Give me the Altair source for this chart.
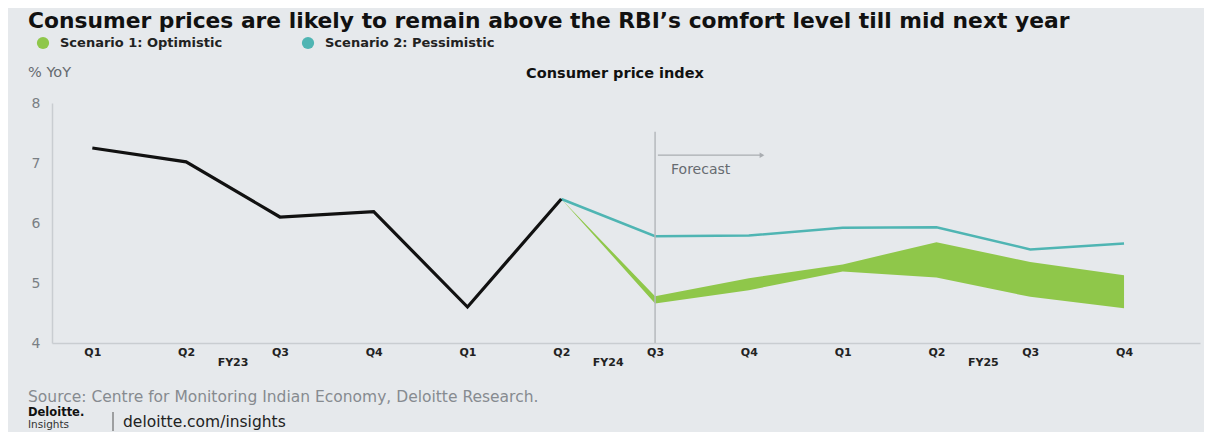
import altair as alt
import pandas as pd

# ---- data ----
quarters = ["Q1", "Q2", "Q3", "Q4", "Q1", "Q2", "Q3", "Q4", "Q1", "Q2", "Q3", "Q4"]
fy_labels = ["FY23", "FY24", "FY25"]
fy_pos = [1.5, 5.5, 9.5]

actual_idx = [0, 1, 2, 3, 4, 5]
actual = [7.25, 7.02, 6.10, 6.19, 4.60, 6.40]

fc_idx = [5, 6, 7, 8, 9, 10, 11]
pessimistic = [6.40, 5.78, 5.79, 5.92, 5.93, 5.56, 5.66]
opt_upper = [6.40, 4.78, 5.08, 5.31, 5.68, 5.35, 5.13]
opt_lower = [6.40, 4.66, 4.88, 5.19, 5.09, 4.77, 4.58]

forecast_start = 6

BG = "#e6e9ec"
GREEN = "#8fc74a"
TEAL = "#4fb5b3"
FONT = "DejaVu Sans"

df_act = pd.DataFrame({"i": actual_idx, "v": actual})
df_fc = pd.DataFrame({"i": fc_idx, "pes": pessimistic, "hi": opt_upper, "lo": opt_lower})
df_fy = pd.DataFrame({"i": fy_pos, "lab": fy_labels})

q_js = "[" + ",".join(f"'{q}'" for q in quarters) + "]"

xs = alt.Scale(domain=[-0.43, 11.81], nice=False, zero=False)
ys = alt.Scale(domain=[4, 8], nice=False, zero=False)

x_axis = alt.Axis(values=list(range(12)), labelExpr=f"{q_js}[datum.value]", title=None,
                  labelFont=FONT, labelFontWeight="bold", labelFontSize=11,
                  labelColor="#222", labelPadding=3, ticks=False, grid=False,
                  domainColor="#c9cdd1", domainWidth=1.5, labelFlush=False)
y_axis = alt.Axis(values=[4, 5, 6, 7, 8], format="d", title=None, labelFont=FONT, labelFontSize=14,
                  labelColor="#7a7f84", labelPadding=12, ticks=False, grid=False,
                  domainColor="#c9cdd1", domainWidth=1.5)

base_fc = alt.Chart(df_fc)

band = base_fc.mark_area(color=GREEN, opacity=1).encode(
    x=alt.X("i:Q", scale=xs, axis=x_axis),
    y=alt.Y("hi:Q", scale=ys, axis=y_axis),
    y2="lo:Q",
)

pes_line = base_fc.mark_line(color=TEAL, strokeWidth=2.5).encode(
    x=alt.X("i:Q", scale=xs), y=alt.Y("pes:Q", scale=ys)
)

act_line = alt.Chart(df_act).mark_line(color="#111", strokeWidth=3.2).encode(
    x=alt.X("i:Q", scale=xs), y=alt.Y("v:Q", scale=ys)
)

df_rule = pd.DataFrame({"i": [forecast_start], "y1": [4.0], "y2": [7.52]})
fc_rule = alt.Chart(df_rule).mark_rule(color="#b5b9bd", strokeWidth=1.5).encode(
    x=alt.X("i:Q", scale=xs), y=alt.Y("y1:Q", scale=ys), y2="y2:Q"
)

df_arrow = pd.DataFrame({"i": [6.03], "i2": [7.12], "y": [7.13]})
arrow_line = alt.Chart(df_arrow).mark_rule(color="#a9adb1", strokeWidth=1.2).encode(
    x=alt.X("i:Q", scale=xs), x2="i2:Q", y=alt.Y("y:Q", scale=ys)
)
df_head = pd.DataFrame({"i": [7.14], "y": [7.13]})
arrow_head = alt.Chart(df_head).mark_point(shape="triangle-right", filled=True, size=30,
                                           color="#a9adb1", opacity=1).encode(
    x=alt.X("i:Q", scale=xs), y=alt.Y("y:Q", scale=ys)
)

df_fl = pd.DataFrame({"i": [6.17], "y": [6.88], "t": ["Forecast"]})
fc_text = alt.Chart(df_fl).mark_text(align="left", baseline="middle", font=FONT,
                                     fontSize=14, color="#666b70").encode(
    x=alt.X("i:Q", scale=xs), y=alt.Y("y:Q", scale=ys), text="t:N"
)

fy_text = alt.Chart(df_fy).mark_text(align="center", baseline="middle", font=FONT,
                                     fontWeight="bold", fontSize=11, color="#222").encode(
    x=alt.X("i:Q", scale=xs), y=alt.value(260), text="lab:N"
)


def label(txt, x, y, size, color, weight="normal", font=FONT, align="left"):
    return alt.Chart(pd.DataFrame({"t": [txt]})).mark_text(
        align=align, baseline="middle", font=font, fontSize=size, fontWeight=weight, color=color
    ).encode(x=alt.value(x), y=alt.value(y), text="t:N")


def dot(x, y, color):
    return alt.Chart(pd.DataFrame({"a": [0]})).mark_point(
        shape="circle", filled=True, size=150, color=color, opacity=1
    ).encode(x=alt.value(x), y=alt.value(y))


title = label("Consumer prices are likely to remain above the RBI\u2019s comfort level till mid next year",
              -24, -82, 21.8, "#111", weight="bold")
leg1 = dot(-9, -60, GREEN)
leg1t = label("Scenario 1: Optimistic", 8, -60, 13, "#222", weight="bold")
leg2 = dot(256, -60, TEAL)
leg2t = label("Scenario 2: Pessimistic", 273, -60, 13, "#222", weight="bold")
yoy = label("% YoY", -24, -30, 14.5, "#666b70")
cpi = label("Consumer price index", 563, -29, 14.5, "#111", weight="bold", align="center")
src = label("Source: Centre for Monitoring Indian Economy, Deloitte Research.", -24, 294, 15.5, "#868b90")
dl1 = label("Deloitte.", -24, 310, 11.5, "#111", weight="bold")
dl2 = label("Insights", -24, 322, 10.5, "#333")
sep = alt.Chart(pd.DataFrame({"a": [0]})).mark_rule(color="#555", strokeWidth=1).encode(
    x=alt.value(61), y=alt.value(309), y2=alt.value(328))
url = label("deloitte.com/insights", 71, 319, 15.5, "#222")

chart = alt.layer(
    band, pes_line, act_line, fc_rule, arrow_line, arrow_head, fc_text, fy_text,
    title, leg1, leg1t, leg2, leg2t, yoy, cpi, src, dl1, dl2, sep, url,
).properties(
    width=1148, height=240,
    autosize=alt.AutoSizeParams(type="none"),
    padding={"left": 44, "top": 95, "right": 4, "bottom": 89},
    background=BG,
).configure_view(stroke=None)

chart.save("out.html", embed_options={"renderer": "svg", "actions": False})
